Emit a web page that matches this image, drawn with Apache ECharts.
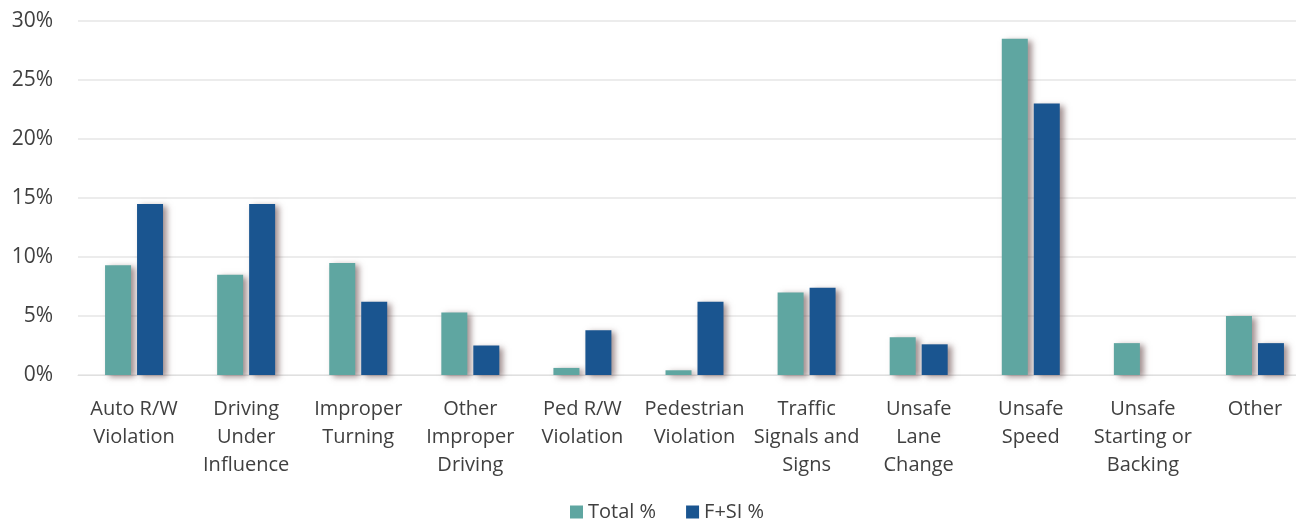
<!DOCTYPE html>
<html>
<head>
<meta charset="utf-8">
<script src="https://cdn.jsdelivr.net/npm/echarts@6/dist/echarts.min.js"></script>
<style>
	html, body { margin: 0; padding: 0; background: #fff; }
	#chart { width: 1296px; height: 527px; }
</style>
</head>
<body>
<div id="chart"></div>
<script>
var categories = ['Auto R/W\nViolation', 'Driving\nUnder\nInfluence', 'Improper\nTurning', 'Other\nImproper\nDriving',
	'Ped R/W\nViolation', 'Pedestrian\nViolation', 'Traffic\nSignals and\nSigns', 'Unsafe\nLane\nChange',
	'Unsafe\nSpeed', 'Unsafe\nStarting or\nBacking', 'Other'];
var totalPct = [9.3, 8.5, 9.5, 5.3, 0.6, 0.4, 7.0, 3.2, 28.5, 2.7, 5.0];
var fsiPct = [14.5, 14.5, 6.2, 2.5, 3.8, 6.2, 7.4, 2.6, 23.0, 0, 2.7];
var seriesNames = ['Total %', 'F+SI %'];

var fontFam = '"Open Sans", Lato, sans-serif';
var shadow = {
	shadowColor: 'rgba(100, 70, 70, 0.6)',
	shadowBlur: 6,
	shadowOffsetX: 4,
	shadowOffsetY: 2
};

var chart = echarts.init(document.getElementById('chart'));
var option = {
	animation: false,
	grid: {
		left: 78,
		width: 1233,
		top: 21,
		bottom: 152,
		outerBoundsMode: 'none'
	},
	legend: {
		data: seriesNames,
		left: 565,
		top: 497,
		icon: 'rect',
		itemWidth: 13,
		itemHeight: 13,
		itemGap: 30,
		textStyle: { fontFamily: fontFam, fontSize: 20, color: '#404040' }
	},
	xAxis: {
		type: 'category',
		data: categories,
		axisLine: { show: true, lineStyle: { color: '#e0e0e0' } },
		axisTick: { show: false },
		axisLabel: {
			interval: 0,
			margin: 20,
			lineHeight: 28,
			fontFamily: fontFam,
			fontSize: 20,
			color: '#404040'
		}
	},
	yAxis: {
		type: 'value',
		min: 0,
		max: 30,
		interval: 5,
		axisLine: { show: false },
		axisTick: { show: false },
		splitLine: { lineStyle: { color: '#e6e6e6', width: 1.5 } },
		axisLabel: {
			margin: 25,
			fontFamily: fontFam,
			fontSize: 21,
			color: '#404040',
			formatter: '{value}%'
		}
	},
	series: [{
		name: seriesNames[0],
		type: 'bar',
		data: totalPct,
		barWidth: 26,
		barGap: '23%',
		itemStyle: Object.assign({ color: '#5fa6a1' }, shadow)
	},
	{
		name: seriesNames[1],
		type: 'bar',
		data: fsiPct,
		barWidth: 26,
		barGap: '23%',
		itemStyle: Object.assign({ color: '#1a5590' }, shadow)
	}]
};
chart.setOption(option);
</script>
</body>
</html>
